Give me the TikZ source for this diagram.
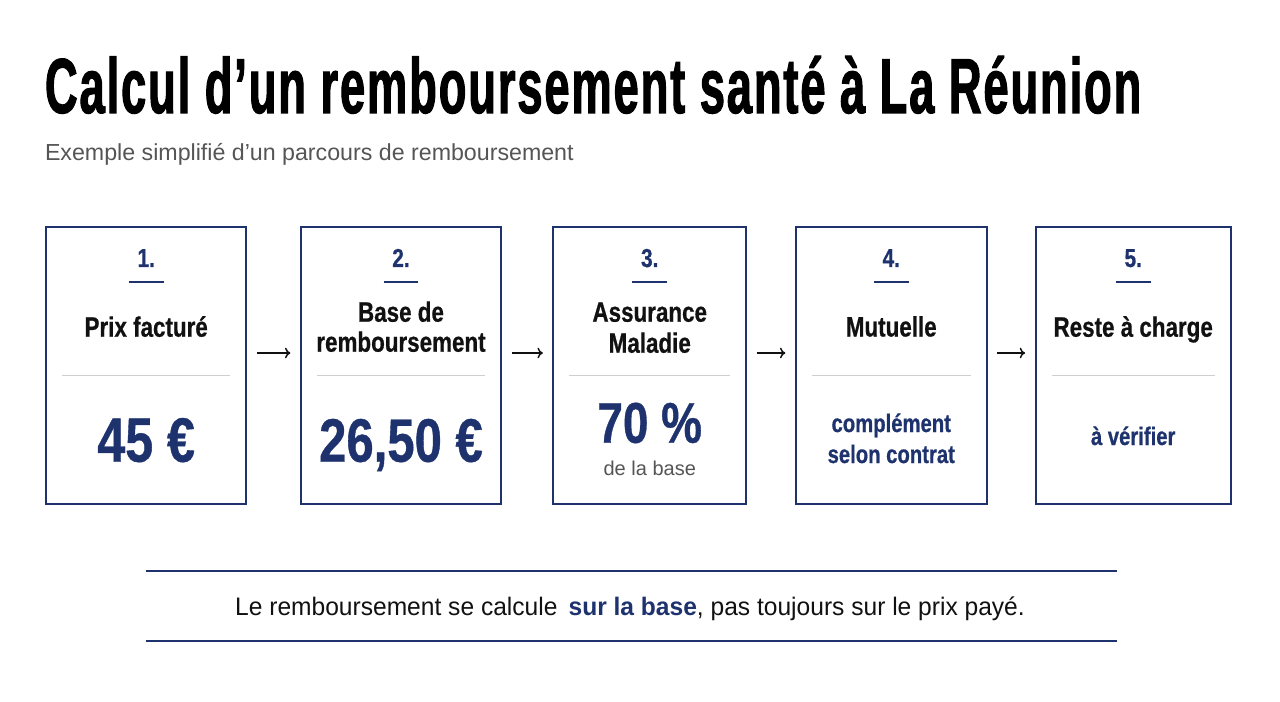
\documentclass[tikz,border=0pt]{standalone}
\usepackage{fontspec}
\setmainfont{Liberation Sans}
\newfontfamily\titlefont{Liberation Sans}[FakeStretch=0.58,FakeBold=1.3,LetterSpace=2.45]
\newfontfamily\condfont{Liberation Sans}[FakeStretch=0.8,FakeBold=0.6]
\newfontfamily\bodyfont{Liberation Sans}[FakeStretch=0.97]
\usetikzlibrary{arrows.meta}
\definecolor{navy}{HTML}{1E326E}
\definecolor{subgray}{HTML}{555555}
\definecolor{divgray}{HTML}{CFCFCF}
\definecolor{ink}{HTML}{111111}
\begin{document}
\begin{tikzpicture}[x=0.75pt,y=-0.75pt,
  every node/.style={inner sep=0pt,outer sep=0pt},
  stepbox/.style={draw=navy,line width=1.5pt,minimum height=207.75pt},
  stepnum/.style={anchor=base,text=navy,font=\condfont\bfseries\fontsize{19.5pt}{21pt}\selectfont},
  steplabel/.style={anchor=base,text=ink,font=\condfont\bfseries\fontsize{21pt}{23pt}\selectfont},
  stepvalue/.style={anchor=base,text=navy,font=\condfont\bfseries\fontsize{47pt}{50pt}\selectfont},
  stepnote/.style={anchor=base,text=navy,font=\condfont\bfseries\fontsize{19pt}{21pt}\selectfont},
  numbar/.style={draw=navy,line width=1.5pt},
  divider/.style={draw=divgray,line width=0.8pt},
  arr/.style={draw=ink,line width=1.1pt,-{To[length=4pt,width=8pt]},shorten <=8pt,shorten >=8pt},
  rule/.style={draw=navy,line width=1.5pt}
]
\path[fill=white,use as bounding box] (0,0) rectangle (1280,702);

% title
\node[anchor=base west,text=black,font=\titlefont\bfseries\fontsize{58.5pt}{60pt}\selectfont] (title) at (45,113) {Calcul d’un remboursement santé à La Réunion};
\node[anchor=base west,text=subgray,font=\fontsize{17.4pt}{19pt}\selectfont] (subtitle) at (45,161) {Exemple simplifié d’un parcours de remboursement};

% boxes
\node[stepbox,minimum width=150pt] (b1) at (146.2,365.5) {};
\node[stepbox,minimum width=150pt] (b2) at (401,365.5) {};
\node[stepbox,minimum width=144.4pt] (b3) at (649.75,365.5) {};
\node[stepbox,minimum width=142.9pt] (b4) at (891.25,365.5) {};
\node[stepbox,minimum width=146.25pt] (b5) at (1133.2,365.5) {};

% numbers and bars
\foreach \b/\n in {b1/1.,b2/2.,b3/3.,b4/4.,b5/5.}{
  \node[stepnum] (\b num) at (\b |- 0,267) {\n};
  \draw[numbar] ([xshift=-13.1pt]\b |- 0,282) -- ([xshift=13.1pt]\b |- 0,282);
  \draw[divider] ([xshift=12pt]\b.west |- 0,375.7) -- ([xshift=-12pt]\b.east |- 0,375.7);
}

% labels
\node[steplabel] (l1) at (b1 |- 0,336.7) {Prix facturé};
\node[steplabel] (l2a) at (b2 |- 0,321.7) {Base de};
\node[steplabel] (l2b) at (b2 |- 0,351.7) {remboursement};
\node[steplabel] (l3a) at (b3 |- 0,321.7) {Assurance};
\node[steplabel] (l3b) at (b3 |- 0,352.7) {Maladie};
\node[steplabel] (l4) at (b4 |- 0,336.5) {Mutuelle};
\node[steplabel] (l5) at (b5 |- 0,336.7) {Reste à charge};

% values
\node[stepvalue] (v1) at (b1 |- 0,461.7) {45 €};
\node[stepvalue,font=\condfont\bfseries\fontsize{46pt}{50pt}\selectfont] (v2) at (b2 |- 0,461.7) {26,50 €};
\node[stepvalue,font=\condfont\bfseries\fontsize{43pt}{46pt}\selectfont] (v3) at (b3 |- 0,442.7) {70 \%};
\node[anchor=base,text=subgray,font=\fontsize{15pt}{17pt}\selectfont] (v3b) at (b3 |- 0,475) {de la base};
\node[stepnote] (v4a) at (b4 |- 0,432) {complément};
\node[stepnote] (v4b) at (b4 |- 0,463) {selon contrat};
\node[stepnote] (v5) at (b5 |- 0,445) {à vérifier};

% arrows
\draw[arr] (b1.east |- 0,353) -- (b2.west |- 0,353);
\draw[arr] (b2.east |- 0,353) -- (b3.west |- 0,353);
\draw[arr] (b3.east |- 0,353) -- (b4.west |- 0,353);
\draw[arr] (b4.east |- 0,353) -- (b5.west |- 0,353);

% bottom note
\draw[rule] (146,570.5) -- (1117,570.5);
\draw[rule] (146,640.5) -- (1117,640.5);
\node[anchor=base,text=ink,font=\bodyfont\fontsize{19pt}{21pt}\selectfont] (note) at (630,615) {Le remboursement se calcule \,{\bfseries\color{navy}sur la base}, pas toujours sur le prix payé.};
\end{tikzpicture}
\end{document}
